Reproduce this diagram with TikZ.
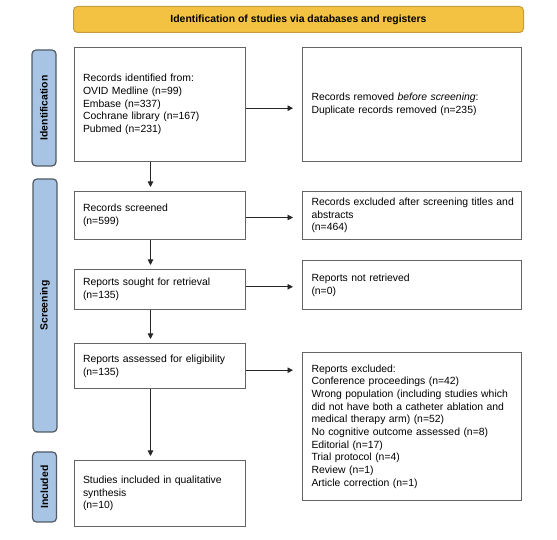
\documentclass[tikz,border=0pt]{standalone}
\usepackage{fontspec}
\setmainfont{Liberation Sans}
\usepackage{tikz}
\usetikzlibrary{arrows.meta, positioning}
\definecolor{bordure}{RGB}{100,100,100}
\definecolor{phasebleu}{RGB}{168,196,228}
\definecolor{phasebord}{RGB}{80,90,102}
\definecolor{bandeauor}{RGB}{244,194,66}
\definecolor{bandeaubord}{RGB}{196,158,60}

\begin{document}
\begin{tikzpicture}[
    etape/.style={rectangle, draw=bordure, line width=1pt, inner xsep=9pt,
      inner ysep=0pt, align=left, font=\fontsize{10.4}{12.7}\selectfont},
    gauche/.style={etape, text width=153pt},
    droite/.style={etape, text width=201pt},
    phase/.style={rectangle, draw=phasebord, fill=phasebleu, line width=1.2pt,
      rounded corners=4pt, rotate=90, minimum height=24pt, inner sep=0pt,
      font=\fontsize{10.4}{12.7}\selectfont\bfseries},
    bandeau/.style={rectangle, draw=bandeaubord, fill=bandeauor, line width=1pt,
      rounded corners=4pt, minimum width=450pt, minimum height=26pt,
      font=\fontsize{10.4}{12.7}\selectfont\bfseries},
    lien/.style={-{Triangle[length=5.5pt, width=5.5pt]}, line width=0.9pt, draw=black!85}
  ]
    \useasboundingbox (0,0) rectangle (557pt,540pt);

    % bandeau et phases
    \node[bandeau, anchor=north west] (titre) at (73pt,534pt)
      {Identification of studies via databases and registers};
    \node[phase, minimum width=116pt] (ident) at (44pt,432pt) {Identification};
    \node[phase, minimum width=253pt] (screen) at (45pt,234.5pt) {Screening};
    \node[phase, minimum width=70pt] (incl) at (44.5pt,53pt) {Included};

    % colonne principale
    \node[gauche, minimum height=114pt, anchor=north west] (trouve) at (73.5pt,493pt)
      {Records identified from:\\ OVID Medline (n=99)\\ Embase (n=337)\\
       Cochrane library (n=167)\\ Pubmed (n=231)};
    \node[gauche, minimum height=48pt, below=29pt of trouve] (tries)
      {Records screened\\ (n=599)};
    \node[gauche, minimum height=40pt, below=29pt of tries] (cherche)
      {Reports sought for retrieval\\ (n=135)};
    \node[gauche, minimum height=45pt, below=33pt of cherche] (evalue)
      {Reports assessed for eligibility\\ (n=135)};
    \node[gauche, minimum height=66pt, below=71pt of evalue] (inclus)
      {Studies included in qualitative\\ synthesis\\ (n=10)};

    % colonne des exclusions
    \node[droite, minimum height=114pt, right=56.5pt of trouve] (retire)
      {Records removed \textit{before screening}:\\ Duplicate records removed (n=235)};
    \node[droite, minimum height=48pt, right=56.5pt of tries] (exclu)
      {\mbox{Records excluded after screening titles and}\\ abstracts\\ (n=464)};
    \node[droite, minimum height=49pt, anchor=south west] (nonrecu)
      at ([xshift=56.5pt]cherche.south east) {Reports not retrieved\\ (n=0)};
    \node[droite, minimum height=148pt, anchor=north west] (rapexclu)
      at ([xshift=56.5pt, yshift=-9pt]evalue.north east)
      {Reports excluded:\\ Conference proceedings (n=42)\\
       \mbox{Wrong population (including studies which}\\
       \mbox{did not have both a catheter ablation and}\\
       medical therapy arm) (n=52)\\
       No cognitive outcome assessed (n=8)\\ Editorial (n=17)\\
       Trial protocol (n=4)\\ Review (n=1)\\ Article correction (n=1)};

    % fleches
    \draw[lien, shorten >=4pt] ([xshift=-9pt]trouve.south) -- ([xshift=-9pt]tries.north);
    \draw[lien, shorten >=4pt] ([xshift=-9pt]tries.south) -- ([xshift=-9pt]cherche.north);
    \draw[lien, shorten >=4pt] ([xshift=-9pt]cherche.south) -- ([xshift=-9pt]evalue.north);
    \draw[lien, shorten >=4pt] ([xshift=-9pt]evalue.south) -- ([xshift=-9pt]inclus.north);
    \draw[lien, shorten >=9pt] ([yshift=-3.7pt]trouve.east) -- ([yshift=-3.7pt]trouve.east -| retire.west);
    \draw[lien, shorten >=9pt] ([yshift=-2pt]tries.east) -- ([yshift=-2pt]tries.east -| exclu.west);
    \draw[lien, shorten >=9pt] ([yshift=2.7pt]cherche.east) -- ([yshift=2.7pt]cherche.east -| nonrecu.west);
    \draw[lien, shorten >=9pt] ([yshift=-4.2pt]evalue.east) -- ([yshift=-4.2pt]evalue.east -| rapexclu.west);
  \end{tikzpicture}
\end{document}
